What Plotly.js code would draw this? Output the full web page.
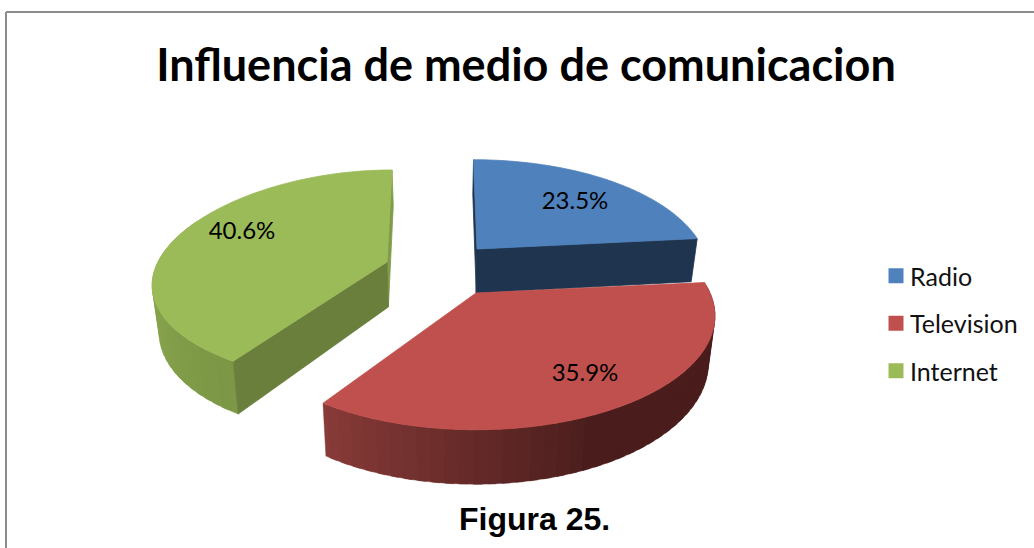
<!DOCTYPE html>
<html><head><meta charset="utf-8">
<script src="https://cdn.plot.ly/plotly-3.0.1.min.js"></script>
<style>
html,body{margin:0;padding:0;background:#fff}
#c{width:1034px;height:548px}
.legend .legendpoints path.scatterpts{transform:translate(26px,0)}
</style></head><body><div id="c"></div>
<script>
const categories = ["Radio", "Television", "Internet"];
const shares = [23.5, 35.9, 40.6];
const topColors = ["#4F81BD", "#C0504D", "#9BBB59"];

// Projection of the tilted, exploded 3D pie (layout geometry, not data)
const W = 1034, H = 548, VX = 445, PX = 0.21, SHRINK = 0.024;
const apexXY = [[477, 249], [476, 293], [387, 262]];
const radiusX = [226, 234, 229];
const radiusY = [113, 113, 107];
const perspY = [0.21, 0.21, 0.14];
const lean = [-3.5, 0, 5];
const depth = [44, 45, 45];
const labelAt = [[575, 203], [585, 375], [242, 233]];

function sink(i, x, y, z, s) {
  return [x + (VX - x) * SHRINK * z, y + z * depth[i] * s];
}
function rim(i, deg, z) {
  const a = deg * Math.PI / 180, c = Math.cos(a), sn = Math.sin(a);
  const sx = 1 - PX * c, sy = 1 - perspY[i] * c;
  return sink(i, apexXY[i][0] + radiusX[i] * sn * sx + lean[i] * c, apexXY[i][1] - radiusY[i] * c * sy, z, sx);
}
function apex(i, z) { return sink(i, apexXY[i][0], apexXY[i][1], z, 1); }
function poly(pts, color, lw) {
  return {x: pts.map(p => p[0]), y: pts.map(p => p[1]), type: "scatter", mode: "lines", fill: "toself",
    fillcolor: color, line: {color: color, width: lw === undefined ? 0.8 : lw, simplify: false},
    hoverinfo: "skip", showlegend: false};
}
function mix(a, b, t) {
  t = Math.max(0, Math.min(1, t));
  return "rgb(" + a.map((v, k) => Math.round(v + (b[k] - v) * t)).join(",") + ")";
}
function range(a, b, n) { const o = []; for (let k = 0; k <= n; k++) o.push(a + (b - a) * k / n); return o; }

const total = shares.reduce((a, b) => a + b, 0);
const spans = []; let acc = 0;
shares.forEach(v => { spans.push([acc, acc + v / total * 360]); acc += v / total * 360; });

const traces = [];
function wallSegments(i, from, to, colorAt) {
  const steps = Math.ceil(Math.abs(to - from) / 3);
  // drawn from the far end so that each band overlaps the next and no seam shows
  for (let k = steps - 1; k >= 0; k--) {
    const a = from + (to - from) * k / steps, b = from + (to - from) * (k + 1.6) / steps;
    const e = Math.min(b, to);
    const arc = range(a, e, 3);
    const pts = arc.map(d => rim(i, d, 0)).concat(arc.slice().reverse().map(d => rim(i, d, 1)));
    pts.push(pts[0]);
    traces.push(poly(pts, colorAt(a), 0.4));
  }
}
function cutFace(i, deg, color) {
  traces.push(poly([apex(i, 0), rim(i, deg, 0), rim(i, deg, 1), apex(i, 1), apex(i, 0)], color));
}
function topFace(i) {
  const arc = range(spans[i][0], spans[i][1], 90).map(d => rim(i, d, 0));
  traces.push(poly([apex(i, 0)].concat(arc, [apex(i, 0)]), topColors[i]));
}

// Radio
cutFace(0, spans[0][0], "#1F344E");
cutFace(0, spans[0][1], "#1F344E");
topFace(0);
// Internet
cutFace(2, spans[2][1], "#7F9C49");
wallSegments(2, spans[2][0], spans[2][0] + 80, d => mix([124, 151, 69], [146, 176, 84], (d - spans[2][0]) / 70));
cutFace(2, spans[2][0], "#6B7F3C");
topFace(2);
// Television
wallSegments(1, spans[1][0], spans[1][1], d => mix([140, 61, 58], [74, 29, 28], (spans[1][1] - d) / 62));
topFace(1);

// Percentage labels
traces.push({x: labelAt.map(p => p[0]), y: labelAt.map(p => p[1]), type: "scatter", mode: "text",
  text: shares.map(v => v.toFixed(1) + "%"), textposition: "middle center",
  textfont: {family: "Lato, sans-serif", size: 24, color: "#000"}, hoverinfo: "skip", showlegend: false});

// Legend entries
categories.forEach((c, i) => traces.push({x: [null], y: [null], type: "scatter", mode: "markers", name: c,
  legendgroup: c, marker: {symbol: "square", size: 15, color: topColors[i]}}));

const layout = {
  width: W, height: H, margin: {l: 0, r: 0, t: 0, b: 0}, paper_bgcolor: "#fff", plot_bgcolor: "#fff",
  title: {text: "<b>Influencia de medio de comunicacion</b>", x: 526 / W, xanchor: "center", y: 1 - 65 / H, yanchor: "middle",
    font: {family: "Lato, sans-serif", size: 45, color: "#000"}},
  xaxis: {range: [0, W], visible: false, fixedrange: true},
  yaxis: {range: [H, 0], visible: false, fixedrange: true},
  legend: {x: 870 / W, xanchor: "left", y: 1 - 253 / H, yanchor: "top", traceorder: "grouped", tracegroupgap: 12,
    font: {family: "Lato, sans-serif", size: 25, color: "#111"}, bgcolor: "rgba(0,0,0,0)"},
  shapes: [
    {type: "line", xref: "x", yref: "y", x0: 6, x1: 6, y0: 12, y1: H, line: {color: "#8C8C8C", width: 2}},
    {type: "line", xref: "x", yref: "y", x0: 6, x1: W, y0: 12, y1: 12, line: {color: "#8C8C8C", width: 2}}
  ],
  annotations: [{text: "<b>Figura 25.</b>", x: 534, y: 519, xref: "x", yref: "y", showarrow: false,
    font: {family: "Liberation Sans, Arial, sans-serif", size: 32, color: "#000"}}]
};
Plotly.newPlot("c", traces, layout, {displayModeBar: false});
</script></body></html>
